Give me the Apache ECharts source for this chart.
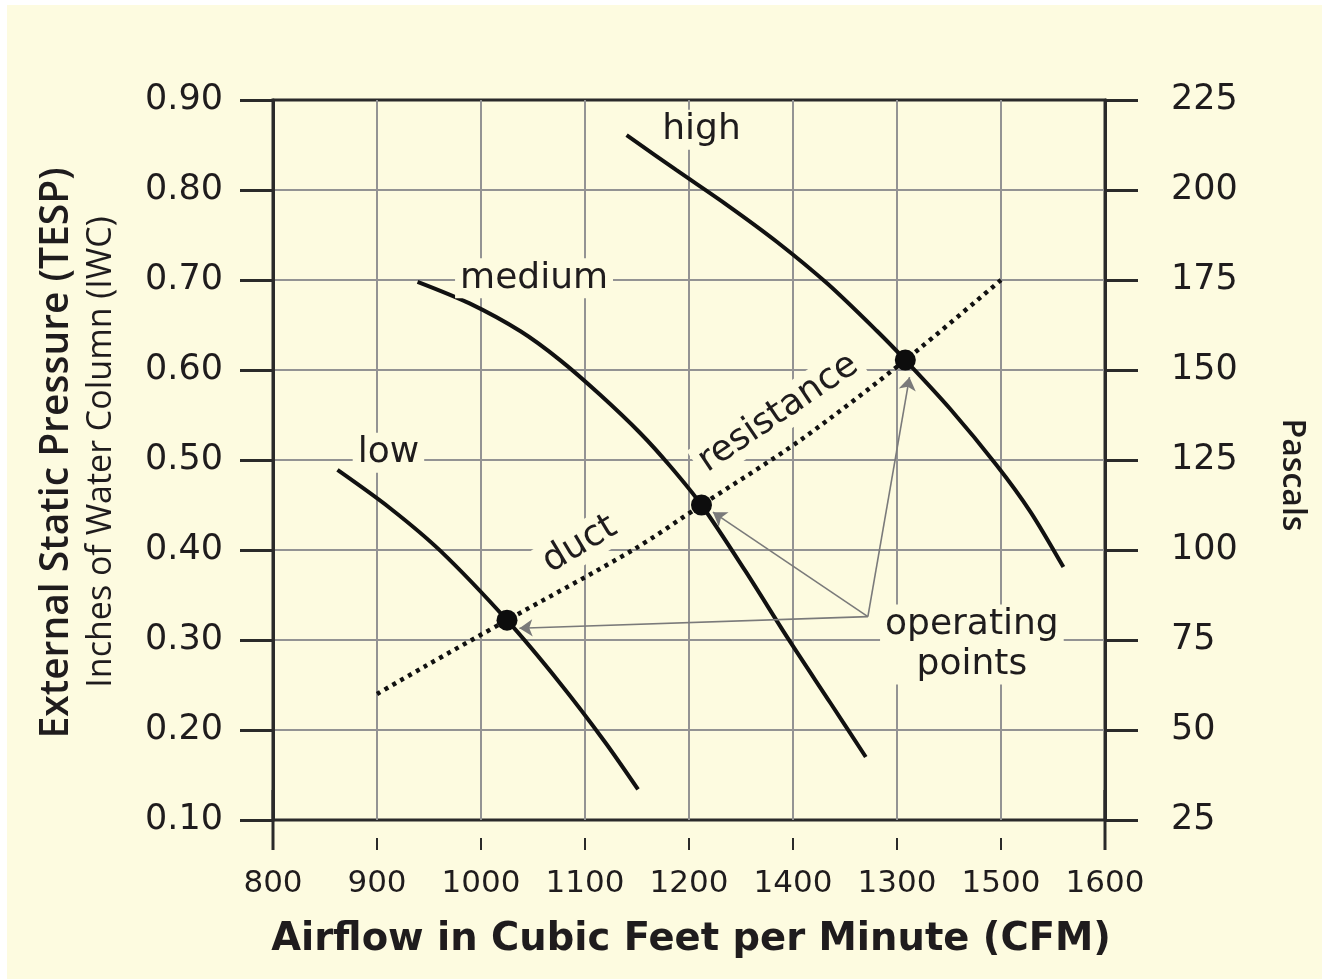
<!DOCTYPE html>
<html>
<head>
<meta charset="utf-8">
<script src="https://cdn.jsdelivr.net/npm/echarts@6/dist/echarts.min.js"></script>
<style>
  html, body { margin: 0; padding: 0; background: #ffffff; }
  #chart { position: absolute; left: 7px; top: 5px; width: 1315px; height: 974px; }
</style>
</head>
<body>
<div id="chart"></div>
<script>
// Fan curves (airflow CFM, static pressure in IWC)
const lowSpeed = [[862,0.489],[912,0.447],[961,0.399],[1025,0.322],[1076,0.252],[1119,0.187],[1151,0.134]];
const mediumSpeed = [[939,0.698],[989,0.674],[1038,0.643],[1076,0.611],[1114,0.573],[1153,0.530],[1182,0.493],[1212,0.45],[1254,0.377],[1295,0.302],[1336,0.23],[1370,0.17]];
const highSpeed = [[1140,0.861],[1188,0.822],[1237,0.783],[1285,0.742],[1333,0.696],[1381,0.643],[1408,0.611],[1451,0.557],[1496,0.494],[1528,0.443],[1560,0.381]];
// Duct system resistance curve
const ductResistance = [[900,0.24],[945,0.27],[1025,0.322],[1146,0.40],[1212,0.45],[1307,0.522],[1408,0.611],[1500,0.70]];
// Where each fan curve meets the duct curve
const operatingPoints = [[1025,0.322],[1212,0.45],[1408,0.611]];
// Callout arrows: common origin near the note, tips beside each operating point
const calloutOrigin = [1372,0.326];
const calloutTips = [[1037,0.313],[1223,0.442],[1412,0.592]];

// Axis tick labels
const xTickLabels = ['800','900','1000','1100','1200','1400','1300','1500','1600'];
const yTicksIWC = [0.10,0.20,0.30,0.40,0.50,0.60,0.70,0.80,0.90];
const yTicksPa = [25,50,75,100,125,150,175,200,225];

// Text annotations inside the plot: [cfm, iwc, text, rotation]
const plotNotes = [
  [1212,0.867,'high',0],
  [1051,0.702,'medium',0],
  [911,0.508,'low',0],
  [1095,0.406,'duct',31],
  [1286,0.552,'resistance',34],
  [1472,0.295,'operating\npoints',0]
];

const BG = '#fdfbe0';
const INK = '#1f1c1d';
const GRID = '#939393';
const FRAME = '#2a2a2a';

const chart = echarts.init(document.getElementById('chart'), null, { renderer: 'canvas' });

const axisFrameLine = {
  show: true,
  lineStyle: { color: FRAME, width: 3 },
  symbol: ['rect', 'none'],
  symbolSize: [3, 60]
};

const curveLine = { color: '#111111', width: 4 };

const option = {
  backgroundColor: BG,
  animation: false,
  grid: {
    left: 266, right: 217, top: 95, bottom: 159,
    show: true, borderColor: FRAME, borderWidth: 3, backgroundColor: 'transparent'
  },
  xAxis: {
    type: 'value',
    min: 800, max: 1600, interval: 100,
    offset: 30,
    axisLine: { show: false },
    axisTick: { show: true, inside: true, length: 12, lineStyle: { color: FRAME, width: 2 } },
    axisLabel: {
      margin: 18,
      color: INK,
      fontFamily: 'DejaVu Sans',
      fontSize: 31,
      formatter: v => xTickLabels[Math.round((v - 800) / 100)]
    },
    splitLine: { show: true, showMinLine: false, showMaxLine: false, lineStyle: { color: GRID, width: 2 } }
  },
  yAxis: [
    {
      type: 'value',
      position: 'left',
      min: yTicksIWC[0], max: yTicksIWC[yTicksIWC.length - 1], interval: 0.1,
      axisLine: axisFrameLine,
      axisTick: { show: true, length: 33, lineStyle: { color: FRAME, width: 3 } },
      axisLabel: {
        margin: 50,
        color: INK,
        fontFamily: 'DejaVu Sans',
        fontSize: 35,
        formatter: v => v.toFixed(2)
      },
      splitLine: { show: true, showMinLine: false, showMaxLine: false, lineStyle: { color: GRID, width: 2 } }
    },
    {
      type: 'value',
      position: 'right',
      min: yTicksPa[0], max: yTicksPa[yTicksPa.length - 1], interval: 25,
      axisLine: axisFrameLine,
      axisTick: { show: true, length: 33, lineStyle: { color: FRAME, width: 3 } },
      axisLabel: {
        margin: 66,
        color: INK,
        fontFamily: 'DejaVu Sans',
        fontSize: 35,
        align: 'left'
      },
      splitLine: { show: false }
    }
  ],
  graphic: [
    {
      type: 'text', x: 50, y: 448, rotation: Math.PI / 2,
      style: {
        text: 'External Static Pressure (TESP)',
        fill: INK, font: '600 39px "Open Sans"',
        textAlign: 'center', textVerticalAlign: 'middle'
      }
    },
    {
      type: 'text', x: 94, y: 447, rotation: Math.PI / 2,
      style: {
        text: 'Inches of Water Column (IWC)',
        fill: INK, font: '34px "Open Sans"',
        textAlign: 'center', textVerticalAlign: 'middle'
      }
    },
    {
      type: 'text', x: 1285, y: 470, rotation: -Math.PI / 2,
      style: {
        text: 'Pascals',
        fill: INK, font: '600 32px "Open Sans"',
        textAlign: 'center', textVerticalAlign: 'middle'
      }
    },
    {
      type: 'text', x: 684, y: 935,
      style: {
        text: 'Airflow in Cubic Feet per Minute (CFM)',
        fill: INK, font: 'bold 38.5px "DejaVu Sans"',
        textAlign: 'center', textVerticalAlign: 'middle'
      }
    }
  ],
  series: [
    {
      name: 'duct resistance', type: 'line', data: ductResistance,
      smooth: 0.3, showSymbol: false, z: 3,
      lineStyle: { color: '#111111', width: 4.5, type: [4, 5], cap: 'butt' }
    },
    {
      name: 'low', type: 'line', data: lowSpeed,
      smooth: 0.3, showSymbol: false, z: 4,
      lineStyle: curveLine
    },
    {
      name: 'medium', type: 'line', data: mediumSpeed,
      smooth: 0.3, showSymbol: false, z: 4,
      lineStyle: curveLine
    },
    {
      name: 'high', type: 'line', data: highSpeed,
      smooth: 0.3, showSymbol: false, z: 4,
      lineStyle: curveLine
    },
    {
      name: 'callouts', type: 'lines', coordinateSystem: 'cartesian2d', z: 5,
      symbol: ['none', 'arrow'], symbolSize: [9, 13],
      lineStyle: { color: '#7a7a7a', width: 1.6, opacity: 1, curveness: 0 },
      data: calloutTips.map(tip => ({ coords: [calloutOrigin, tip] }))
    },
    {
      name: 'operating points', type: 'scatter', data: operatingPoints,
      symbol: 'circle', symbolSize: 21, z: 6,
      itemStyle: { color: '#0d0d0d', opacity: 1 }
    },
    {
      name: 'notes', type: 'scatter', z: 7,
      symbolSize: 0,
      itemStyle: { color: BG, opacity: 1 },
      emphasis: { disabled: true },
      data: plotNotes.map(n => ({
        value: [n[0], n[1]],
        label: { formatter: n[2], rotate: n[3] }
      })),
      label: {
        show: true,
        position: 'inside',
        color: INK,
        opacity: 1,
        textBorderWidth: 0,
        fontFamily: 'DejaVu Sans',
        fontSize: 36,
        lineHeight: 40,
        align: 'center',
        verticalAlign: 'middle',
        backgroundColor: BG,
        padding: [0, 5]
      }
    }
  ]
};

chart.setOption(option);
</script>
</body>
</html>
